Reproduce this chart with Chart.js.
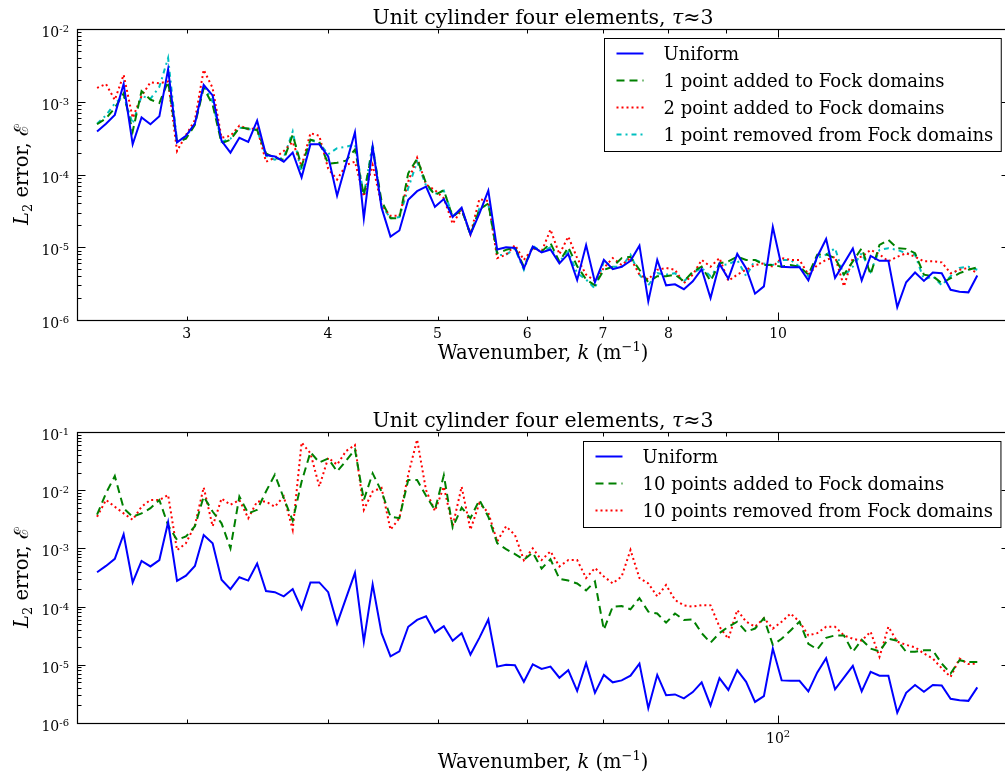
<!DOCTYPE html>
<html>
<head>
<meta charset="utf-8">
<script src="https://cdn.jsdelivr.net/npm/chart.js@4.4.0/dist/chart.umd.min.js"></script>
<style>
html,body{margin:0;padding:0;background:#fff;overflow:hidden}
#wrap{position:relative;width:1005px;height:776px;overflow:hidden;background:#fff}
canvas{position:absolute;left:0}
</style>
</head>
<body>
<div id="wrap">
  <canvas id="topChart" width="1012" height="388" style="top:0"></canvas>
  <canvas id="bottomChart" width="1012" height="388" style="top:388px"></canvas>
</div>
<script>
// wavenumbers (upper panel) and the scaled axis of the lower panel
const kTop = [2.500,2.546,2.592,2.639,2.688,2.737,2.787,2.838,2.889,2.942,
  2.996,3.051,3.106,3.163,3.221,3.280,3.340,3.401,3.463,3.526,
  3.590,3.656,3.723,3.791,3.860,3.930,4.002,4.075,4.150,4.226,
  4.303,4.381,4.461,4.543,4.626,4.710,4.796,4.884,4.973,5.064,
  5.156,5.251,5.346,5.444,5.544,5.645,5.748,5.853,5.960,6.069,
  6.179,6.292,6.407,6.524,6.643,6.765,6.888,7.014,7.142,7.273,
  7.405,7.541,7.678,7.819,7.961,8.107,8.255,8.406,8.559,8.715,
  8.875,9.037,9.202,9.370,9.541,9.715,9.893,10.073,10.257,10.445,
  10.635,10.830,11.027,11.229,11.434,11.643,11.855,12.072,12.292,12.517,
  12.745,12.978,13.215,13.456,13.702,13.952,14.207,14.467,14.731,15.000];
const kBottom = [25.00,25.46,25.92,26.39,26.88,27.37,27.87,28.38,28.89,29.42,
  29.96,30.51,31.06,31.63,32.21,32.80,33.40,34.01,34.63,35.26,
  35.90,36.56,37.23,37.91,38.60,39.30,40.02,40.75,41.50,42.26,
  43.03,43.81,44.61,45.43,46.26,47.10,47.96,48.84,49.73,50.64,
  51.56,52.51,53.46,54.44,55.44,56.45,57.48,58.53,59.60,60.69,
  61.79,62.92,64.07,65.24,66.43,67.65,68.88,70.14,71.42,72.73,
  74.05,75.41,76.78,78.19,79.61,81.07,82.55,84.06,85.59,87.15,
  88.75,90.37,92.02,93.70,95.41,97.15,98.93,100.73,102.57,104.45,
  106.35,108.30,110.27,112.29,114.34,116.43,118.55,120.72,122.92,125.17,
  127.45,129.78,132.15,134.56,137.02,139.52,142.07,144.67,147.31,150.00];

// L2 errors
const uniform = [3.9e-4,5.0e-4,6.6e-4,1.75e-3,2.6e-4,6.1e-4,4.9e-4,6.3e-4,2.8e-3,2.76e-4,
  3.4e-4,5.0e-4,1.7e-3,1.22e-3,2.9e-4,2.0e-4,3.2e-4,2.8e-4,5.5e-4,1.85e-4,
  1.77e-4,1.5e-4,2.0e-4,9.1e-5,2.6e-4,2.6e-4,1.77e-4,5.1e-5,1.4e-4,3.8e-4,
  2.5e-5,2.4e-4,3.5e-5,1.4e-5,1.7e-5,4.5e-5,5.9e-5,6.8e-5,3.6e-5,4.6e-5,
  2.6e-5,3.5e-5,1.5e-5,2.9e-5,6.0e-5,9.3e-6,1.0e-5,9.8e-6,5.1e-6,1.02e-5,
  8.5e-6,9.3e-6,6.0e-6,8.1e-6,3.55e-6,1.07e-5,3.3e-6,6.7e-6,5.0e-6,5.4e-6,
  6.5e-6,1.05e-5,1.8e-6,6.7e-6,3.0e-6,3.1e-6,2.65e-6,3.4e-6,5.0e-6,2.0e-6,
  5.9e-6,3.7e-6,8.1e-6,5.1e-6,2.3e-6,2.9e-6,1.9e-5,5.4e-6,5.3e-6,5.3e-6,
  3.5e-6,7.4e-6,1.3e-5,3.8e-6,6.0e-6,9.6e-6,3.5e-6,7.6e-6,6.5e-6,6.5e-6,
  1.5e-6,3.3e-6,4.5e-6,3.45e-6,4.5e-6,4.4e-6,2.6e-6,2.45e-6,2.4e-6,4.1e-6];
const add1 = [4.9e-4,5.9e-4,8.2e-4,1.3e-3,3.9e-4,1.4e-3,1.07e-3,9.6e-4,1.9e-3,2.8e-4,
  3.1e-4,4.8e-4,1.55e-3,9.1e-4,2.7e-4,3.0e-4,4.4e-4,4.3e-4,4.1e-4,1.95e-4,
  1.68e-4,1.6e-4,3.5e-4,1.3e-4,3.0e-4,2.8e-4,1.4e-4,1.45e-4,1.55e-4,2.2e-4,
  5.2e-5,2.3e-4,4.3e-5,2.5e-5,2.5e-5,1.04e-4,1.65e-4,7.6e-5,5.2e-5,6.1e-5,
  2.6e-5,3.3e-5,1.5e-5,3.3e-5,4.0e-5,8.3e-6,9.2e-6,1.0e-5,5.4e-6,1.0e-5,
  8.7e-6,1.14e-5,6.3e-6,1.0e-5,5.5e-6,3.6e-6,3.0e-6,4.9e-6,5.4e-6,7.1e-6,
  7.4e-6,4.9e-6,3.3e-6,4.0e-6,4.0e-6,4.2e-6,3.4e-6,4.6e-6,5.4e-6,3.45e-6,
  6.0e-6,6.4e-6,7.4e-6,6.7e-6,6.7e-6,5.7e-6,5.7e-6,5.4e-6,5.7e-6,5.4e-6,
  4.2e-6,7.9e-6,8.0e-6,7.1e-6,4.2e-6,6.4e-6,9.7e-6,4.2e-6,1.08e-5,1.26e-5,
  9.7e-6,9.5e-6,8.3e-6,4.2e-6,4.0e-6,3.2e-6,3.75e-6,4.4e-6,4.9e-6,5.3e-6];
const add2 = [1.55e-3,1.75e-3,1.06e-3,2.35e-3,6.0e-4,1.2e-3,1.85e-3,1.8e-3,1.9e-3,2.1e-4,
  3.5e-4,5.6e-4,2.75e-3,1.55e-3,3.2e-4,3.4e-4,4.7e-4,4.2e-4,4.3e-4,1.5e-4,
  1.7e-4,2.1e-4,2.8e-4,1.3e-4,3.7e-4,3.4e-4,1.2e-4,8.5e-5,1.35e-4,1.5e-4,
  5.0e-5,1.35e-4,3.8e-5,2.7e-5,2.7e-5,8.0e-5,1.7e-4,7.3e-5,6.1e-5,4.7e-5,
  2.1e-5,3.3e-5,1.5e-5,4.6e-5,4.3e-5,7.1e-6,7.9e-6,1.07e-5,6.7e-6,9.7e-6,
  8.7e-6,1.75e-5,8.0e-6,1.4e-5,7.1e-6,4.2e-6,3.45e-6,5.2e-6,7.1e-6,5.7e-6,
  7.1e-6,4.2e-6,3.6e-6,4.9e-6,5.2e-6,4.9e-6,3.2e-6,4.2e-6,6.7e-6,5.4e-6,
  7.1e-6,3.45e-6,4.2e-6,4.9e-6,5.7e-6,6.0e-6,5.4e-6,7.1e-6,6.7e-6,6.7e-6,
  4.2e-6,5.7e-6,6.7e-6,7.4e-6,2.9e-6,7.1e-6,7.4e-6,9.2e-6,8.0e-6,6.4e-6,
  7.4e-6,8.3e-6,7.4e-6,6.4e-6,6.4e-6,6.2e-6,4.4e-6,4.9e-6,5.2e-6,4.4e-6];
const remove1 = [5.0e-4,6.5e-4,9.5e-4,1.2e-3,5.0e-4,1.2e-3,1.1e-3,1.6e-3,4.0e-3,2.9e-4,
  3.3e-4,5.0e-4,1.7e-3,1.0e-3,2.8e-4,3.1e-4,4.4e-4,4.2e-4,4.1e-4,1.8e-4,
  1.6e-4,1.7e-4,3.9e-4,1.0e-4,3.0e-4,2.7e-4,1.9e-4,2.3e-4,2.4e-4,2.6e-4,
  5.2e-5,2.6e-4,3.8e-5,2.5e-5,2.6e-5,6.5e-5,1.5e-4,7.0e-5,5.4e-5,6.0e-5,
  2.7e-5,3.3e-5,1.5e-5,3.4e-5,3.9e-5,7.8e-6,7.9e-6,9.5e-6,4.9e-6,1.05e-5,
  8.7e-6,1.0e-5,6.4e-6,8.7e-6,4.4e-6,3.6e-6,2.7e-6,6.4e-6,5.4e-6,5.4e-6,
  7.9e-6,4.2e-6,3.0e-6,4.4e-6,4.2e-6,4.4e-6,3.4e-6,4.4e-6,5.2e-6,4.0e-6,
  5.7e-6,5.8e-6,6.7e-6,4.0e-6,6.7e-6,6.0e-6,5.7e-6,6.7e-6,6.7e-6,5.4e-6,
  4.0e-6,7.1e-6,7.9e-6,9.7e-6,4.0e-6,5.4e-6,8.3e-6,4.6e-6,9.2e-6,9.7e-6,
  9.2e-6,8.3e-6,7.9e-6,3.6e-6,4.0e-6,3.0e-6,4.0e-6,5.2e-6,5.4e-6,4.9e-6];
const add10 = [3.8e-3,8.9e-3,1.75e-2,4.9e-3,3.5e-3,4.0e-3,4.9e-3,6.8e-3,2.5e-3,1.4e-3,
  1.6e-3,2.4e-3,7.8e-3,4.3e-3,2.7e-3,1.0e-3,7.8e-3,4.0e-3,4.6e-3,9.5e-3,
  1.85e-2,7.3e-3,3.0e-3,1.4e-2,4.5e-2,3.0e-2,3.5e-2,2.1e-2,3.2e-2,5.0e-2,
  6.8e-3,1.95e-2,9.5e-3,3.5e-3,3.3e-3,1.5e-2,1.5e-2,8.0e-3,4.6e-3,1.8e-2,
  2.3e-3,5.0e-3,3.3e-3,6.8e-3,3.5e-3,1.23e-3,9.7e-4,8.0e-4,6.4e-4,8.5e-4,
  4.5e-4,6.5e-4,3.0e-4,2.8e-4,2.5e-4,1.9e-4,2.7e-4,4.0e-5,1.0e-4,1.02e-4,
  9.0e-5,1.4e-4,8.2e-5,7.6e-5,5.3e-5,7.6e-5,5.9e-5,6.0e-5,3.5e-5,2.4e-5,
  3.5e-5,4.5e-5,5.5e-5,3.7e-5,4.2e-5,6.3e-5,2.2e-5,2.8e-5,3.9e-5,5.5e-5,
  2.3e-5,1.84e-5,2.9e-5,3.2e-5,3.2e-5,1.67e-5,2.7e-5,1.9e-5,1.7e-5,2.8e-5,
  2.6e-5,1.67e-5,1.67e-5,1.77e-5,1.77e-5,1.05e-5,7.1e-6,1.2e-5,1.12e-5,1.12e-5];
const remove10 = [3.5e-3,6.8e-3,5.2e-3,4.0e-3,3.1e-3,5.2e-3,6.8e-3,6.8e-3,8.3e-3,9.3e-4,
  1.23e-3,2.5e-3,1.12e-2,2.4e-3,7.2e-3,5.6e-3,6.8e-3,3.3e-3,6.4e-3,6.4e-3,
  5.2e-3,7.8e-3,2.1e-3,6.6e-2,4.3e-2,1.16e-2,3.6e-2,2.75e-2,4.7e-2,6.0e-2,
  4.6e-3,9.5e-3,1.1e-2,2.1e-3,3.3e-3,1.85e-2,7.4e-2,1.0e-2,4.4e-3,1.15e-2,
  2.4e-3,1.15e-2,2.1e-3,6.0e-3,4.1e-3,1.32e-3,2.4e-3,1.7e-3,6.3e-4,1.0e-3,
  6.3e-4,8.9e-4,4.9e-4,6.3e-4,6.3e-4,3.1e-4,4.6e-4,3.3e-4,2.5e-4,3.3e-4,
  9.4e-4,3.1e-4,2.5e-4,1.5e-4,2.35e-4,1.3e-4,1.05e-4,1.0e-4,1.06e-4,1.05e-4,
  4.5e-5,2.8e-5,8.7e-5,5.5e-5,4.5e-5,6.3e-5,4.2e-5,5.5e-5,7.6e-5,5.5e-5,
  3.2e-5,3.5e-5,4.5e-5,4.5e-5,3.2e-5,2.8e-5,2.6e-5,3.7e-5,1.37e-5,4.5e-5,
  2.5e-5,2.2e-5,2.0e-5,1.56e-5,1.28e-5,8.7e-6,6.2e-6,1.28e-5,1.03e-5,1.05e-5];

// axis ticks
const topXTicks = [3,4,5,6,7,8,9,10];
const topXLabels = ['3','4','5','6','7','8','','10'];
const bottomXTicks = [30,40,50,60,70,80,90,100];
const bottomXLabels = ['','','','','','','','10^2'];

const SERIF = "'DejaVu Serif', 'Liberation Serif', serif";
function fnt(size, style){ return (style || '') + ' ' + size + 'px ' + SERIF; }

// parts: [text, size, style, dy]
function richWidth(ctx, parts){
  let w = 0;
  parts.forEach(p=>{ ctx.font = fnt(p[1], p[2]); w += ctx.measureText(p[0]).width; });
  return w;
}
function drawRich(ctx, parts, x, y, align){
  const w = richWidth(ctx, parts);
  let cx = align === 'center' ? x - w/2 : align === 'right' ? x - w : x;
  ctx.textAlign = 'left'; ctx.textBaseline = 'alphabetic';
  parts.forEach(p=>{
    ctx.font = fnt(p[1], p[2]);
    ctx.fillText(p[0], cx, y + (p[3] || 0));
    cx += ctx.measureText(p[0]).width;
  });
}
function tickParts(label, size){
  const m = label.split('^');
  if(m.length === 1) return [[label, size]];
  return [[m[0], size], [m[1], Math.round(size*0.72), '', -Math.round(size*0.45)]];
}

const TITLE = [['Unit cylinder four elements, ',20.5],['\u03c4',20.5,'italic'],['\u22483',20.5]];
const XLABEL = [['Wavenumber, ',19.5],['k',19.5,'italic'],[' (m',19.5],['\u22121',13,'',-8],[')',19.5]];
const YLABEL = [['L',19.5,'italic'],['2',13,'',4],[' error, ',19.5],['\u2130',19.5]];
const LEGEND_FONT = 18;

const decor = {
  id:'decor',
  afterDraw(chart){
    const o = chart.options.plugins.decor;
    const {ctx, chartArea:a} = chart;
    const xs = chart.scales.x, ys = chart.scales.y;
    const L = Math.round(a.left)+0.5, R = Math.round(a.right)+0.5;
    const T = Math.round(a.top)+0.5, B = Math.round(a.bottom)+0.5;
    ctx.save();
    ctx.fillStyle = '#000'; ctx.strokeStyle = '#000'; ctx.lineWidth = 1;

    // y ticks (decades + minors), both sides, pointing inward
    ctx.beginPath();
    const e0 = Math.round(Math.log10(ys.min)), e1 = Math.round(Math.log10(ys.max));
    for(let e = e0; e <= e1; e++){
      for(let m = 1; m <= 9; m++){
        const v = m * Math.pow(10, e);
        if(v > ys.max * 1.0001) break;
        const py = Math.round(ys.getPixelForValue(v)) + 0.5;
        const len = m === 1 ? 8 : 4;
        ctx.moveTo(L, py); ctx.lineTo(L + len, py);
        ctx.moveTo(R, py); ctx.lineTo(R - len, py);
      }
    }
    // x ticks
    o.xTicks.forEach(v=>{
      const px = Math.round(xs.getPixelForValue(v)) + 0.5;
      const len = Math.abs(Math.log10(v) % 1) < 1e-9 ? 8 : 4;
      ctx.moveTo(px, B); ctx.lineTo(px, B - len);
      ctx.moveTo(px, T); ctx.lineTo(px, T + len);
    });
    ctx.stroke();
    ctx.lineWidth = 1.2;
    ctx.strokeRect(L, T, R - L, B - T);

    // y tick labels
    for(let e = e0; e <= e1; e++){
      const py = ys.getPixelForValue(Math.pow(10, e));
      drawRich(ctx, [['10',14],['-' + Math.abs(e),10,'',-5]], a.left - 8, py + 8, 'right');
    }
    // x tick labels
    o.xTicks.forEach((v, i)=>{
      const lab = o.xLabels[i];
      if(!lab) return;
      drawRich(ctx, tickParts(lab, 14), xs.getPixelForValue(v), a.bottom + o.xTickBase, 'center');
    });

    const cx = (a.left + a.right) / 2;
    drawRich(ctx, TITLE, cx, a.top - 5, 'center');
    drawRich(ctx, XLABEL, cx, a.bottom + o.xLabelBase, 'center');
    ctx.save();
    ctx.translate(28, (a.top + a.bottom) / 2);
    ctx.rotate(-Math.PI / 2);
    drawRich(ctx, YLABEL, 0, 0, 'center');
    ctx.restore();

    // legend, upper right
    const ds = chart.data.datasets;
    ctx.font = fnt(LEGEND_FONT);
    let tw = 0;
    ds.forEach(d=>{ tw = Math.max(tw, ctx.measureText(d.label).width); });
    const bw = 12 + 27 + 20 + tw + 8;
    const bh = 15 + 27 * (ds.length - 1) + 17;
    const bx = Math.round(a.right - 8.3 - bw) + 0.5, by = Math.round(a.top + 8.7) + 0.5;
    ctx.fillStyle = '#fff';
    ctx.fillRect(bx, by, bw, bh);
    ctx.strokeStyle = '#000'; ctx.lineWidth = 1;
    ctx.strokeRect(bx, by, bw, bh);
    ds.forEach((d, i)=>{
      const ry = by + 15 + 27 * i;
      ctx.save();
      ctx.strokeStyle = d.borderColor; ctx.lineWidth = d.borderWidth;
      ctx.setLineDash(d.borderDash || []);
      ctx.beginPath(); ctx.moveTo(bx + 12, ry); ctx.lineTo(bx + 39, ry); ctx.stroke();
      ctx.restore();
      ctx.fillStyle = '#000';
      ctx.font = fnt(LEGEND_FONT); ctx.textAlign = 'left'; ctx.textBaseline = 'alphabetic';
      ctx.fillText(d.label, bx + 59, ry + 6.5);
    });
    ctx.restore();
  }
};

function series(label, ks, vals, color, dash){
  return {
    label: label,
    data: ks.map((k, i)=>({x: k, y: vals[i]})),
    borderColor: color, backgroundColor: color,
    borderWidth: 2, borderDash: dash, borderCapStyle: 'butt',
    pointRadius: 0, tension: 0, fill: false
  };
}

function makeChart(id, datasets, xr, yr, xTicks, xLabels, padTop, xAxisH, xTickBase, xLabelBase){
  return new Chart(document.getElementById(id), {
    type: 'line',
    data: {datasets: datasets},
    options: {
      responsive: false, animation: false, devicePixelRatio: 1,
      layout: {padding: {top: padTop, right: 3, left: 0, bottom: 0}},
      plugins: {
        legend: {display: false}, title: {display: false}, tooltip: {enabled: false},
        decor: {xTicks: xTicks, xLabels: xLabels, xTickBase: xTickBase, xLabelBase: xLabelBase}
      },
      scales: {
        x: {type: 'logarithmic', min: xr[0], max: xr[1],
            grid: {display: false}, border: {display: false}, ticks: {display: false},
            afterFit: s=>{ s.height = xAxisH; }},
        y: {type: 'logarithmic', min: yr[0], max: yr[1],
            grid: {display: false}, border: {display: false}, ticks: {display: false},
            afterFit: s=>{ s.width = 77; }}
      }
    },
    plugins: [decor]
  });
}

makeChart('topChart', [
  series('Uniform', kTop, uniform, '#0000ff', []),
  series('1 point added to Fock domains', kTop, add1, '#008000', [8, 5]),
  series('2 point added to Fock domains', kTop, add2, '#ff0000', [2, 3]),
  series('1 point removed from Fock domains', kTop, remove1, '#00bfbf', [5, 4, 2, 4])
], [2.4, 16], [1e-6, 1e-2], topXTicks, topXLabels, 29, 68, 18, 39);

makeChart('bottomChart', [
  series('Uniform', kBottom, uniform, '#0000ff', []),
  series('10 points added to Fock domains', kBottom, add10, '#008000', [8, 5]),
  series('10 points removed from Fock domains', kBottom, remove10, '#ff0000', [2, 3])
], [24, 160], [1e-6, 1e-1], bottomXTicks, bottomXLabels, 44, 53, 20, 45);
</script>
</body>
</html>
